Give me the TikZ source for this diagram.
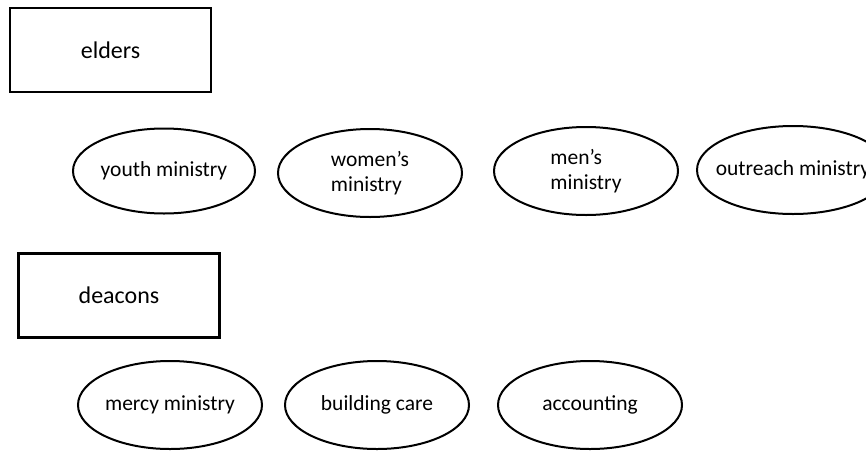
\documentclass[tikz,border=0pt]{standalone}
\usepackage{fontspec}
\setmainfont{Carlito}
\usetikzlibrary{shapes.geometric}

\begin{document}
\begin{tikzpicture}[x=1pt,y=-1pt,
	board/.style={draw, line width=2.4pt, minimum width=201pt, minimum height=84pt, font=\fontsize{24}{28}\selectfont},
	ministry/.style={draw, ellipse, line width=2pt, minimum width=184pt, minimum height=88pt, inner sep=0pt, align=left, font=\fontsize{21.5}{25}\selectfont}]

	\useasboundingbox (0,0) rectangle (866,453);
	\clip (0,0) rectangle (866,453);

	% boards
	\node[board] (elders) at (110.5,50) {elders};
	\node[board] (deacons) at (119,295.5) {deacons};

	% ministries under the elders
	\node[ministry, minimum width=182pt, minimum height=85pt] (youth) at (164,171) {youth ministry};
	\node[ministry] (women) at (370,173) {women’s\\ministry};
	\node[ministry] (men) at (586,171) {men’s\\ministry};
	\node[ministry, minimum width=192pt] (outreach) at (793,170) {\makebox[0pt]{outreach ministry}};

	% ministries under the deacons
	\node[ministry] (mercy) at (170,405) {mercy ministry};
	\node[ministry] (building) at (377,405) {building care};
	\node[ministry] (accounting) at (590,405) {accounting};

\end{tikzpicture}
\end{document}
